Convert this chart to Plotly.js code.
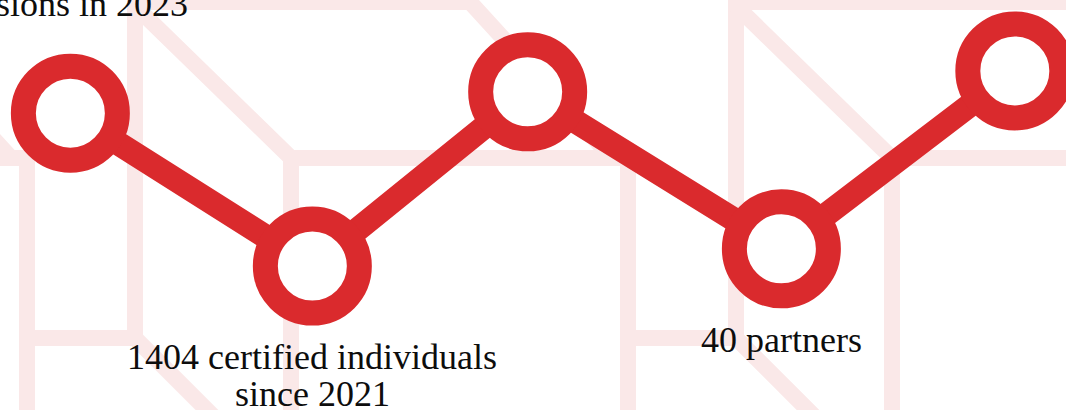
<!DOCTYPE html>
<html>
<head>
<meta charset="utf-8">
<script src="https://cdn.plot.ly/plotly-3.0.1.min.js"></script>
<style>
  html, body { margin: 0; padding: 0; background: #ffffff; }
  #chart { width: 1066px; height: 410px; }
</style>
</head>
<body>
<div id="chart"></div>
<script>
// ---- Data ----
const xValues = [0.66, 2.93, 4.95, 7.33, 9.52];
const yValues = [7.24, 3.51, 7.76, 3.93, 8.27];
const labelLines = [
  ["sessions in 2023"],
  ["1404 certified individuals", "since 2021"],
  [],
  ["40 partners"],
  []
];
const labelSide = ["above", "below", "", "below", ""];

// ---- Styling ----
const RED = "#DA2A2D";
const PINK = "#FAE8E8";
const W = 1066, H = 410;

// Decorative background pattern (pixel space -> paper space), repeated tiles
function P(x, y) { return (x / W).toFixed(5) + "," + (1 - y / H).toFixed(5); }
function pathOf(pts, o) {
  return "M" + pts.map(p => P(p[0] + o, p[1])).join(" L");
}
const tilePaths = [
  [[135, 338], [135, 2], [470, 2], [612, 158]],
  [[135, 6], [291, 158], [628, 158], [628, 425]],
  [[291, 158], [291, 425]],
  [[27, 338], [135, 338], [222, 425]]
];
const shapes = [];
[-601, 0, 601].forEach(o => {
  tilePaths.forEach(pts => {
    shapes.push({
      type: "path", xref: "paper", yref: "paper", layer: "below",
      path: pathOf(pts, o),
      line: { color: PINK, width: 16 }
    });
  });
});

// Annotations built from the label arrays
const annotations = [];
const LINE_GAP = 37;
labelLines.forEach((lines, i) => {
  const n = lines.length;
  lines.forEach((t, j) => {
    let ys;
    if (labelSide[i] === "below") ys = -91 - LINE_GAP * j;
    else ys = 109 + LINE_GAP * (n - 1 - j);
    annotations.push({
      x: xValues[i], y: yValues[i], xref: "x", yref: "y",
      text: t, showarrow: false,
      xanchor: "center", yanchor: "middle", yshift: ys,
      font: { family: "Liberation Serif, Times New Roman, serif", size: 36, color: "#0d0d0d" }
    });
  });
});

const trace = {
  x: xValues, y: yValues,
  type: "scatter", mode: "lines+markers",
  line: { color: RED, width: 24 },
  marker: { symbol: "circle", size: 94, color: "#ffffff", line: { color: RED, width: 25 } },
  cliponaxis: false,
  hoverinfo: "skip"
};

const layout = {
  width: W, height: H,
  margin: { l: 0, r: 0, t: 0, b: 0 },
  paper_bgcolor: "#ffffff", plot_bgcolor: "rgba(0,0,0,0)",
  showlegend: false,
  xaxis: { range: [0, 10], visible: false, fixedrange: true },
  yaxis: { range: [0, 10], visible: false, fixedrange: true },
  shapes: shapes,
  annotations: annotations
};

Plotly.newPlot("chart", [trace], layout, { displayModeBar: false, staticPlot: true });
</script>
</body>
</html>
